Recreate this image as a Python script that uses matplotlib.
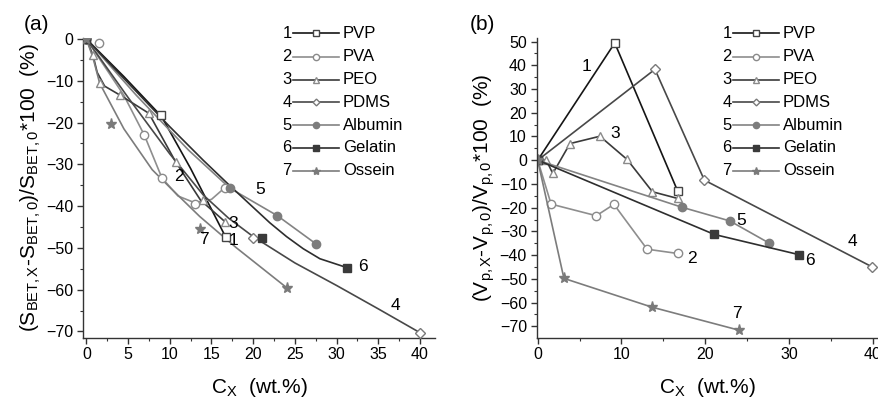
import matplotlib
matplotlib.use('Agg')
import matplotlib.pyplot as plt
from matplotlib.lines import Line2D
from matplotlib.ticker import MultipleLocator

plt.rcParams['font.family'] = ['Liberation Sans', 'DejaVu Sans']
plt.rcParams['mathtext.fontset'] = 'custom'
plt.rcParams['mathtext.rm'] = 'Liberation Sans'
plt.rcParams['mathtext.it'] = 'Liberation Sans:italic'

W, H = 879, 401

names = ['PVP', 'PVA', 'PEO', 'PDMS', 'Albumin', 'Gelatin', 'Ossein']
nums = ['1', '2', '3', '4', '5', '6', '7']

# ---- panel (a): measured points ----
a_pts_x = [
    [0, 9.0, 16.7],
    [1.5, 6.95, 9.07, 13.0, 16.6],
    [0, 0.8, 1.6, 4.0, 7.5, 10.7, 14.0, 16.6],
    [0, 20.0, 40.0],
    [0, 17.2, 22.9, 27.5],
    [0, 21.1, 31.2],
    [0, 3.0, 13.6, 24.0],
]
a_pts_y = [
    [0, -18.3, -47.4],
    [-0.9, -23.0, -33.3, -39.4, -35.6],
    [0, -3.9, -10.5, -13.4, -17.8, -29.4, -38.6, -43.7],
    [0, -47.7, -70.3],
    [0, -35.6, -42.3, -49.0],
    [0, -47.6, -54.7],
    [0, -20.3, -45.4, -59.5],
]
# ---- panel (a): fitted curves ----
a_fit_x = [
    [0, 4.5, 9.0, 12.5, 16.7],
    [0, 2.0, 4.5, 6.95, 9.07, 11.0, 13.0, 15.0, 16.6],
    [0, 0.8, 1.3, 2.2, 4.0, 7.5, 10.7, 13.7, 16.6],
    [0, 5, 10, 14, 17, 20, 25, 30, 35, 40],
    [0, 6, 12.25, 17.2, 22.9, 27.5],
    [0, 5, 10, 14, 17.3, 20, 22, 24, 26, 28, 31.2],
    [0, 0.8, 1.6, 4.5, 7.9, 10.0, 13.6, 18.0, 24.0],
]
a_fit_y = [
    [0, -9.0, -18.5, -31.0, -47.4],
    [0, -6.0, -13.5, -23.0, -33.3, -37.6, -39.2, -38.4, -35.6],
    [0, -3.9, -8.0, -11.3, -13.4, -17.8, -29.4, -38.6, -43.7],
    [0, -14.0, -27.5, -37.3, -42.8, -47.3, -53.6, -59.0, -64.6, -70.3],
    [0, -13.5, -26.6, -35.7, -42.3, -49.0],
    [0, -10.5, -21.0, -29.0, -35.3, -40.3, -44.0, -47.3, -50.2, -52.6, -54.7],
    [0, -4.5, -10.6, -21.5, -31.3, -35.5, -42.5, -50.0, -59.5],
]
a_lab_x = [17.6, 11.1, 17.6, 37.1, 20.8, 33.2, 14.1]
a_lab_y = [-48.2, -32.8, -44.1, -63.9, -36.1, -54.5, -48.1]

# ---- panel (b) ----
b_x = [
    [0, 9.2, 16.7],
    [0, 1.6, 7.0, 9.1, 13.06, 16.7],
    [0, 1.0, 1.8, 3.85, 7.43, 10.68, 13.7, 16.7],
    [0, 14.0, 19.9, 39.9],
    [0, 17.2, 22.95, 27.57],
    [0, 21.1, 31.2],
    [0, 3.13, 13.62, 24.0],
]
b_y = [
    [0, 49.4, -12.9],
    [0, -18.5, -23.4, -18.6, -37.5, -39.3],
    [0, 0.2, -5.6, 7.0, 10.1, 0.3, -13.3, -16.1],
    [0, 38.3, -8.4, -44.9],
    [0, -19.8, -25.6, -34.8],
    [0, -31.3, -39.8],
    [0, -49.8, -61.9, -71.6],
]
b_lab_x = [5.8, 18.4, 9.2, 37.6, 24.3, 32.5, 23.8]
b_lab_y = [39.3, -41.4, 11.2, -34.4, -25.5, -42.1, -64.5]

line_col = ['#151515', '#8e8e8e', '#3a3a3a', '#484848', '#838383', '#2e2e2e', '#7c7c7c']
markers = ['s', 'o', '^', 'D', 'o', 's', '*']
m_face = ['white', 'white', 'white', 'white', '#7d7d7d', '#3a3a3a', '#7a7a7a']
m_edge = ['#444444', '#8a8a8a', '#8a8a8a', '#7a7a7a', '#7d7d7d', '#3a3a3a', '#7a7a7a']
m_size = [5.8, 6, 6.2, 4.6, 6, 5.4, 8]

fig = plt.figure(figsize=(W / 100, H / 100), dpi=100)
ax1 = fig.add_axes([83 / W, 1 - 337.7 / H, 352 / W, 300 / H])
ax2 = fig.add_axes([536.7 / W, 1 - 337.7 / H, 341 / W, 299.7 / H])


def style(ax, xmaj, xmin, ymaj, ymin):
    for s in ['top', 'right']:
        ax.spines[s].set_visible(False)
    for s in ['left', 'bottom']:
        ax.spines[s].set_color('#333333')
        ax.spines[s].set_linewidth(1.0)
    ax.xaxis.set_major_locator(MultipleLocator(xmaj))
    ax.xaxis.set_minor_locator(MultipleLocator(xmin))
    ax.yaxis.set_major_locator(MultipleLocator(ymaj))
    ax.yaxis.set_minor_locator(MultipleLocator(ymin))
    ax.tick_params(which='major', direction='out', length=4, width=1, color='#333333',
                   labelsize=11.5, pad=3)
    ax.tick_params(which='minor', direction='out', length=2.5, width=0.8, color='#333333')


# panel (a)
for i in range(7):
    ax1.plot(a_fit_x[i], a_fit_y[i], color=line_col[i], lw=1.2, zorder=2)
for i in range(7):
    ax1.plot(a_pts_x[i], a_pts_y[i], ls='none', marker=markers[i], ms=m_size[i],
             mfc=m_face[i], mec=m_edge[i], mew=1.0, zorder=3)
for i in range(7):
    ax1.text(a_lab_x[i], a_lab_y[i], nums[i], fontsize=12.5, ha='center', va='center')
ax1.set_xlim(-0.4, 41.8)
ax1.set_ylim(-71.5, 0.3)
style(ax1, 5, 2.5, 10, 5)
ax1.set_xlabel('C$_\\mathrm{X}$  (wt.%)', fontsize=15, labelpad=10)
ax1.set_ylabel('(S$_\\mathrm{BET,X}$-S$_\\mathrm{BET,0}$)/S$_\\mathrm{BET,0}$*100  (%)',
               fontsize=15, labelpad=2)

# panel (b)
for i in range(7):
    ax2.plot(b_x[i], b_y[i], color=line_col[i], lw=1.2, marker=markers[i], ms=m_size[i],
             mfc=m_face[i], mec=m_edge[i], mew=1.0)
for i in range(7):
    ax2.text(b_lab_x[i], b_lab_y[i], nums[i], fontsize=12.5, ha='center', va='center')
ax2.set_xlim(-0.12, 40.6)
ax2.set_ylim(-74.8, 51.5)
style(ax2, 10, 5, 10, 5)
ax2.set_xlabel('C$_\\mathrm{X}$  (wt.%)', fontsize=15, labelpad=10)
ax2.set_ylabel('(V$_\\mathrm{p,X}$-V$_\\mathrm{p,0}$)/V$_\\mathrm{p,0}$*100  (%)',
               fontsize=15, labelpad=2)

fig.text(37 / W, 1 - 24 / H, '(a)', fontsize=15, ha='center', va='center')
fig.text(482 / W, 1 - 24 / H, '(b)', fontsize=15, ha='center', va='center')

# keys
key_rows = [33.3, 56.7, 80, 102.3, 125, 147.7, 170.7]


def draw_key(x0):
    for i in range(7):
        yf = 1 - key_rows[i] / H
        fig.text(x0 / W, yf, nums[i], fontsize=12, ha='center', va='center')
        fig.add_artist(Line2D([(x0 + 6) / W, (x0 + 52) / W], [yf, yf], color=line_col[i],
                              lw=1.2, transform=fig.transFigure))
        fig.add_artist(Line2D([(x0 + 29) / W], [yf], ls='none', marker=markers[i],
                              ms=m_size[i] * 0.75, mfc=m_face[i], mec=m_edge[i], mew=1.0,
                              transform=fig.transFigure))
        fig.text((x0 + 56) / W, yf, names[i], fontsize=12, ha='left', va='center')


draw_key(287)
draw_key(727)

fig.savefig('out.png', dpi=100)
